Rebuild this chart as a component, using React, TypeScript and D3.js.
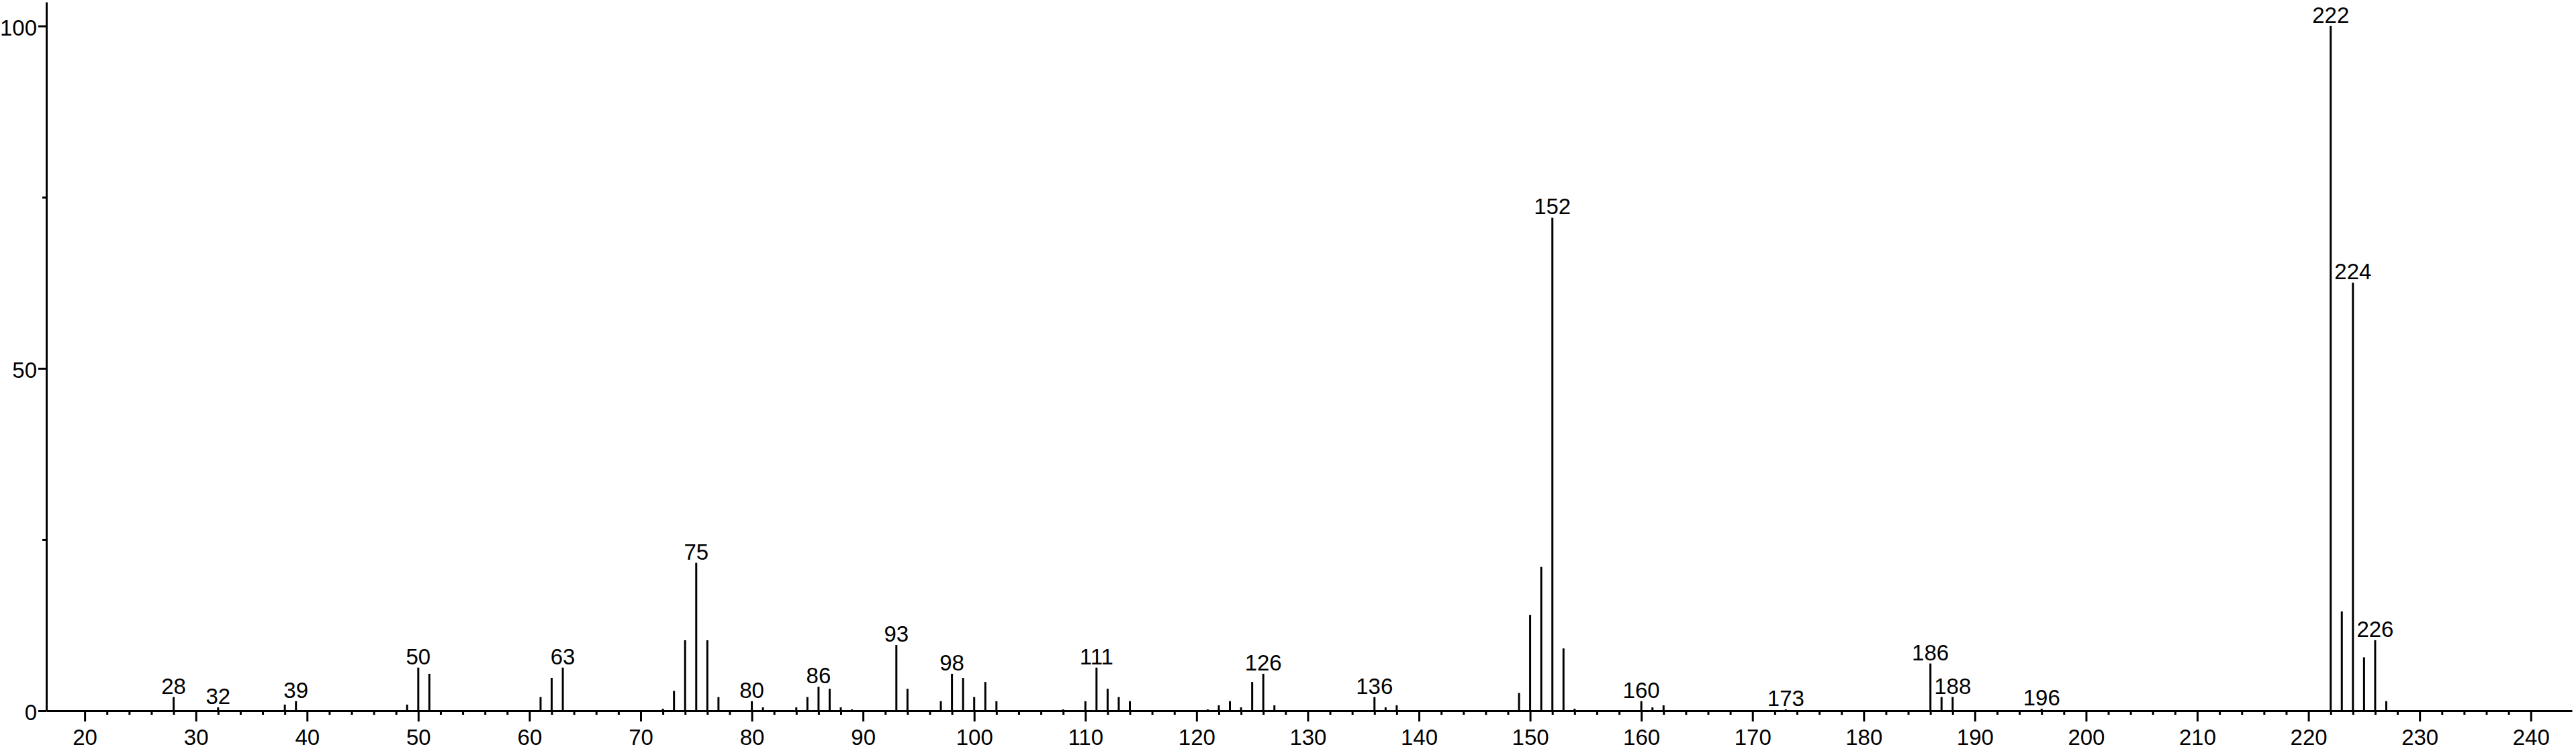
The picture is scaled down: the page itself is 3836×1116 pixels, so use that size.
import React, { useRef, useEffect } from 'react';
import * as d3 from 'd3';

// m/z values and relative intensities
const mzValues = [
  28, 32, 38, 39, 49, 50, 51, 61, 62, 63, 72, 73, 74, 75, 76, 77, 80, 81, 84, 85, 86, 87, 88, 89,
  93, 94, 97, 98, 99, 100, 101, 102, 108, 110, 111, 112, 113, 114, 121, 122, 123, 124, 125, 126, 127,
  136, 137, 138, 149, 150, 151, 152, 153, 154, 160, 161, 162, 173, 186, 187, 188, 196,
  222, 223, 224, 225, 226, 227,
];
const intensities = [
  2.0, 0.5, 0.9, 1.4, 0.9, 6.3, 5.4, 2.0, 4.8, 6.3, 0.3, 2.9, 10.3, 21.6, 10.3, 2.0, 1.4, 0.5, 0.5, 2.0, 3.5, 3.2, 0.5, 0.2,
  9.6, 3.2, 1.4, 5.4, 4.8, 2.0, 4.2, 1.4, 0.2, 1.4, 6.3, 3.2, 2.0, 1.4, 0.2, 0.8, 1.4, 0.5, 4.2, 5.4, 0.8,
  2.0, 0.5, 0.8, 2.6, 14.0, 21.0, 72.0, 9.1, 0.3, 1.4, 0.5, 0.8, 0.2, 6.9, 2.0, 2.0, 0.3,
  100, 14.5, 62.5, 7.8, 10.3, 1.4,
];
// peaks that carry an m/z label
const labelledPeaks = [28, 32, 39, 50, 63, 75, 80, 86, 93, 98, 111, 126, 136, 152, 160, 173, 186, 188, 196, 222, 224, 226];

const xMajorTicks = [20, 30, 40, 50, 60, 70, 80, 90, 100, 110, 120, 130, 140, 150, 160, 170, 180, 190, 200, 210, 220, 230, 240];
const xMinorTicks = d3.range(22, 240, 2).filter(v => v % 10 !== 0);
const yMajorTicks = [0, 50, 100];
const yMinorTicks = [25, 75];

const WIDTH = 3836;
const HEIGHT = 1116;
const FONT = '"Liberation Sans", Arial, sans-serif';

const App: React.FC = () => {
  const svgRef = useRef<SVGSVGElement | null>(null);

  useEffect(() => {
    const svg = d3.select(svgRef.current);
    svg.selectAll('*').remove();

    const left = 69;
    const right = 3830;
    const top = 3;
    const bottom = 1059;

    const x = d3.scaleLinear().domain([16.55, 243.7]).range([left, right]);
    const y = d3.scaleLinear().domain([0, 103.5]).range([bottom, top]);

    const peaks = mzValues.map((mz, i) => ({ mz, v: intensities[i] }));

    // peaks
    svg.append('g')
      .selectAll('line')
      .data(peaks)
      .enter()
      .append('line')
      .attr('x1', d => x(d.mz))
      .attr('x2', d => x(d.mz))
      .attr('y1', y(0))
      .attr('y2', d => y(d.v))
      .attr('stroke', '#000')
      .attr('stroke-width', 3);

    // peak labels
    svg.append('g')
      .selectAll('text')
      .data(peaks.filter(p => labelledPeaks.includes(p.mz)))
      .enter()
      .append('text')
      .attr('x', d => x(d.mz))
      .attr('y', d => y(d.v) - 5)
      .attr('text-anchor', 'middle')
      .style('font-family', FONT)
      .style('font-size', '33px')
      .attr('fill', '#000')
      .text(d => d.mz);

    // x axis: minor ticks
    const xMinor = svg.append('g')
      .attr('transform', `translate(0,${bottom})`)
      .call(d3.axisBottom(x).tickValues(xMinorTicks).tickSize(6).tickSizeOuter(0).tickFormat(() => ''));
    xMinor.select('.domain').remove();
    xMinor.selectAll('line').attr('stroke', '#000').attr('stroke-width', 3);

    // x axis: major ticks + labels
    const xAxis = svg.append('g')
      .attr('transform', `translate(0,${bottom})`)
      .call(d3.axisBottom(x).tickValues(xMajorTicks).tickSize(16).tickSizeOuter(0).tickPadding(12).tickFormat(d => `${d}`));
    xAxis.select('.domain').attr('stroke', '#000').attr('stroke-width', 3);
    xAxis.selectAll('line').attr('stroke', '#000').attr('stroke-width', 3);
    xAxis.selectAll('text')
      .attr('fill', '#000')
      .style('font-family', FONT)
      .style('font-size', '33px');

    // y axis: minor ticks
    const yMinor = svg.append('g')
      .attr('transform', `translate(${left},0)`)
      .call(d3.axisLeft(y).tickValues(yMinorTicks).tickSize(6).tickSizeOuter(0).tickFormat(() => ''));
    yMinor.select('.domain').remove();
    yMinor.selectAll('line').attr('stroke', '#000').attr('stroke-width', 3);

    // y axis
    const yAxis = svg.append('g')
      .attr('transform', `translate(${left},0)`)
      .call(d3.axisLeft(y).tickValues(yMajorTicks).tickSize(12).tickSizeOuter(0).tickPadding(2).tickFormat(d => `${d}`));
    yAxis.select('.domain').attr('stroke', '#000').attr('stroke-width', 3);
    yAxis.selectAll('line').attr('stroke', '#000').attr('stroke-width', 3);
    yAxis.selectAll('text')
      .attr('fill', '#000')
      .attr('dy', '0.42em')
      .style('font-family', FONT)
      .style('font-size', '33px');
  }, []);

  return (
    <svg
      ref={svgRef}
      width={WIDTH}
      height={HEIGHT}
      style={{ position: 'absolute', left: 0, top: 0, background: '#fff' }}
    />
  );
};

export default App;
